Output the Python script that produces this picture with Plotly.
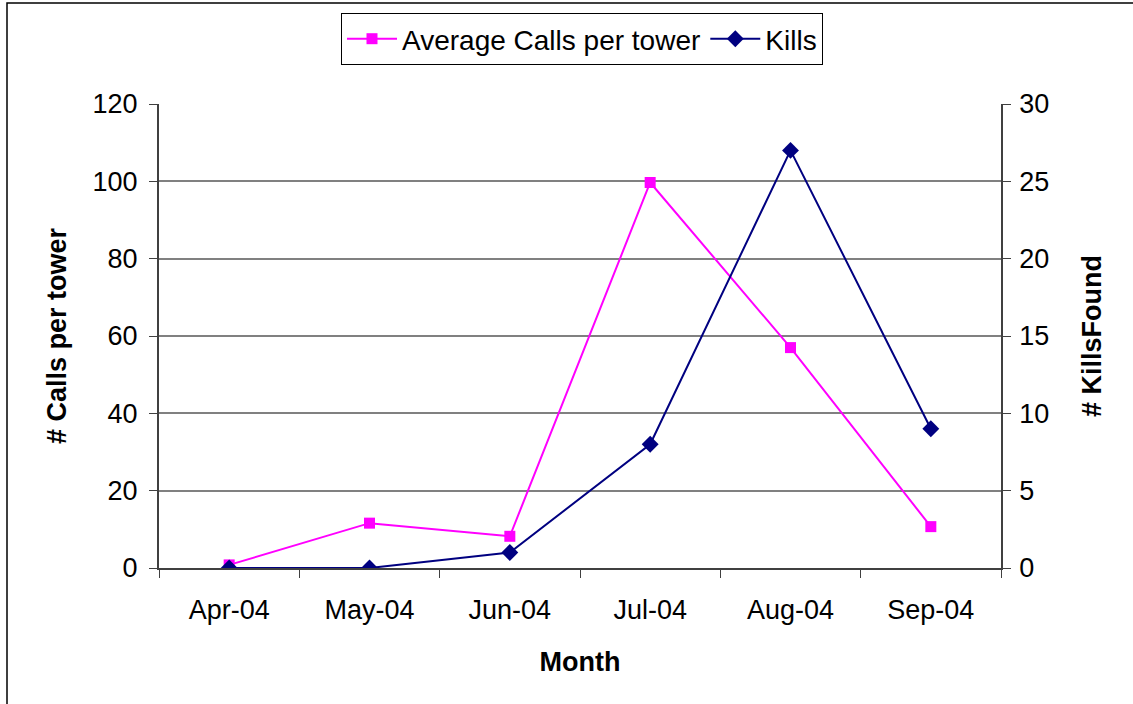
import plotly.graph_objects as go

months = ["Apr-04", "May-04", "Jun-04", "Jul-04", "Aug-04", "Sep-04"]
avg_calls = [0.8, 11.6, 8.2, 99.7, 57.0, 10.7]
kills = [0, 0, 1, 8, 27, 9]

W, H = 1133, 704
L, R, T, B = 159, 132, 104, 136
PW, PH = W - L - R, H - T - B

fig = go.Figure()
fig.add_trace(go.Scatter(
    x=months, y=avg_calls, name="Average Calls per tower", mode="lines+markers",
    line=dict(color="#FF00FF", width=2), marker=dict(symbol="square", size=11, color="#FF00FF"),
    yaxis="y"))
fig.add_trace(go.Scatter(
    x=months, y=kills, name="Kills", mode="lines+markers",
    line=dict(color="#000080", width=2), marker=dict(symbol="diamond", size=13, color="#000080"),
    yaxis="y2"))

font = "Liberation Sans, Arial, sans-serif"
fig.update_layout(
    width=W, height=H,
    margin=dict(l=L, r=R, t=T, b=B, autoexpand=False),
    paper_bgcolor="white", plot_bgcolor="white",
    font=dict(family=font, size=27, color="black"),
    showlegend=True,
    legend=dict(orientation="h", x=(582 - L) / PW, xref="paper", xanchor="center",
                y=1 - 13 / H, yref="container", yanchor="top",
                bordercolor="black", borderwidth=1, bgcolor="white",
                font=dict(size=28), itemwidth=50, traceorder="normal",
                tracegroupgap=0),
    xaxis=dict(type="category", range=[-0.5, 5.5], tickson="boundaries",
               ticks="outside", ticklen=8, tickcolor="#404040",
               showline=True, linecolor="#404040", linewidth=2,
               showgrid=False, tickfont=dict(size=27), ticklabelstandoff=17,
               title=dict(text="<b>Month</b>", font=dict(size=27), standoff=28)),
    yaxis=dict(range=[0, 120], dtick=20, ticks="outside", ticklen=8, tickcolor="#404040",
               showline=True, linecolor="#404040", linewidth=2,
               showgrid=True, gridcolor="#808080", gridwidth=2,
               zeroline=False, tickfont=dict(size=27), ticklabelstandoff=6,
               title=dict(text="<b># Calls per tower</b>", font=dict(size=27), standoff=18)),
    yaxis2=dict(range=[0, 30], dtick=5, overlaying="y", side="right",
                ticks="outside", ticklen=8, tickcolor="#404040",
                showline=True, linecolor="#404040", linewidth=1.5,
                showgrid=False, zeroline=False, tickfont=dict(size=27), ticklabelstandoff=3,
                title=dict(text="<b># KillsFound</b>", font=dict(size=27), standoff=34)),
)

fig.add_shape(type="rect", xref="paper", yref="paper",
              x0=-(L - 7) / PW, x1=1 + (R + 20) / PW,
              y0=-(B + 20) / PH, y1=1 + (T - 3) / PH,
              line=dict(color="black", width=1.5), fillcolor="rgba(0,0,0,0)", layer="below")

fig.write_html("out.html", config={"displayModeBar": False},
               post_script="document.body.style.margin='0';")
